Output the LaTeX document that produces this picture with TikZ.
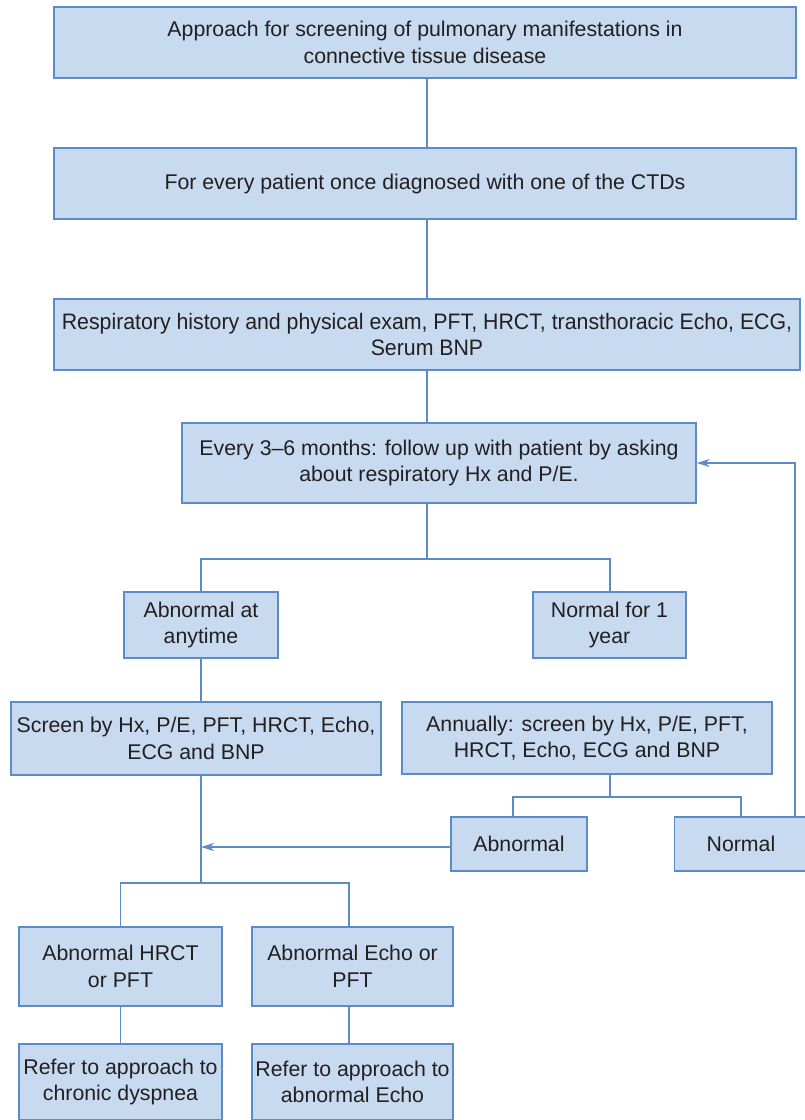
\documentclass[tikz,border=0pt]{standalone}
\usepackage{fontspec}
\setmainfont{Liberation Sans}
\usetikzlibrary{arrows.meta,calc}
\definecolor{boxfill}{RGB}{199,218,239}
\definecolor{boxline}{RGB}{92,140,200}
\definecolor{txt}{RGB}{35,31,32}
\begin{document}
\begin{tikzpicture}[x=1pt,y=-1pt,
  box/.style={draw=boxline,fill=boxfill,line width=1.4pt,inner sep=0pt,
    align=center,text=txt,font=\fontsize{21.3}{26.5}\selectfont},
  conn/.style={draw=boxline,line width=1.4pt},
  arr/.style={conn,-{Stealth[length=13pt,width=8pt,inset=4pt]}}]
\path[use as bounding box,fill=white] (0,0) rectangle (804,1120);
% boxes
\node[box,minimum width=742pt,minimum height=71pt] (b1) at (425,42.5)
  {Approach for screening of pulmonary manifestations in\\connective tissue disease};
\node[box,minimum width=742pt,minimum height=71pt] (b2) at (425,183.5)
  {For every patient once diagnosed with one of the CTDs};
\node[box,minimum width=746pt,minimum height=71pt] (b3) at (427,334.5)
  {\scalebox{1.0}[1.05]{Respiratory history and physical exam, PFT, HRCT, transthoracic Echo, ECG,}\\\scalebox{1.0}[1.05]{Serum BNP}};
\node[box,minimum width=514pt,minimum height=80pt] (b4) at (439,463)
  {Every 3--6 months: follow up with patient by asking\\about respiratory Hx and P/E.};
\node[box,minimum width=154pt,minimum height=66pt] (b5) at (201,625)
  {Abnormal at\\anytime};
\node[box,minimum width=153pt,minimum height=66pt] (b6) at (609.5,625)
  {Normal for 1\\year};
\node[box,minimum width=370pt,minimum height=73pt] (b7) at (196,738.5)
  {Screen by Hx, P/E, PFT, HRCT, Echo,\\ECG and BNP};
\node[box,minimum width=370pt,minimum height=72pt] (b8) at (587,738)
  {Annually: screen by Hx, P/E, PFT,\\HRCT, Echo, ECG and BNP};
\node[box,minimum width=136pt,minimum height=54pt] (b9) at (519,844)
  {Abnormal};
\node[box,minimum width=133pt,minimum height=54pt] (b10) at (741,844)
  {Normal};
\node[box,minimum width=203pt,minimum height=79pt] (b11) at (120.5,966.5)
  {Abnormal HRCT\\or PFT};
\node[box,minimum width=201pt,minimum height=79pt] (b12) at (352.5,966.5)
  {Abnormal Echo or\\PFT};
\node[box,minimum width=203pt,minimum height=76pt] (b13) at (120.5,1082)
  {Refer to approach to\\chronic dyspnea};
\node[box,minimum width=201pt,minimum height=76pt] (b14) at (352.5,1082)
  {Refer to approach to\\abnormal Echo};
% junction coordinates
\coordinate (j1) at (427,559);
\coordinate (j2) at (610,797);
\coordinate (j3) at (201,883);
\coordinate (m7) at (201,847);
% connectors
\draw[conn] ($(b1.south)+(2,0)$) -- ($(b2.north)+(2,0)$);
\draw[conn] ($(b2.south)+(2,0)$) -- (b3.north);
\draw[conn] (b3.south) -- (b3.south |- b4.north);
\draw[conn] (b3.south |- b4.south) -- (j1);
\draw[conn] (b5.north) |- (j1) -| ($(b6.north)+(0.5,0)$);
\draw[conn] (b5.south) -- (b5.south |- b7.north);
\draw[conn] ($(b6.south)+(0.5,0)$) -- ($(b6.south)+(0.5,0)$ |- b8.north);
\draw[conn] (j2 |- b8.south) -- (j2);
\draw[conn] (b9.north -| 513,0) |- (j2) -| (b10.north);
\draw[conn] (b5.south |- b7.south) -- (j3);
\draw[conn] (b11.north) |- (j3) -| ($(b12.north)+(-3.5,0)$);
\draw[conn] (b11.south) -- (b13.north);
\draw[conn] ($(b12.south)+(-3.5,0)$) -- ($(b14.north)+(-3.5,0)$);
\draw[arr] (b9.west |- m7) -- (m7);
\draw[arr] (b10.north -| 795,0) -- (795,463) -- (b4.east);
\end{tikzpicture}
\end{document}
